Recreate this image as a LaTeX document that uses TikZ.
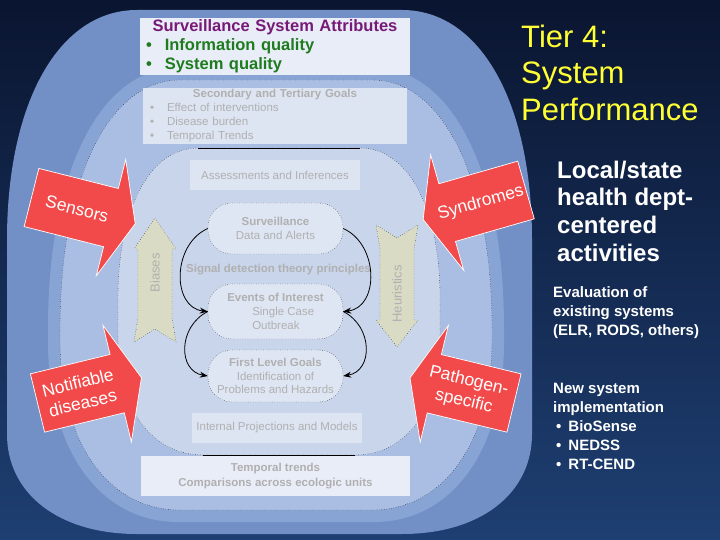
\documentclass[tikz,border=0pt]{standalone}
\usepackage{fontspec}
\setmainfont{Liberation Sans}
\definecolor{BgTop}{HTML}{0A1530}
\definecolor{BgBot}{HTML}{1E3F72}
\definecolor{OuterBlue}{HTML}{7290C6}
\definecolor{BandBlue}{HTML}{88A4D5}
\definecolor{MidBlue}{HTML}{A9BEE2}
\definecolor{InnerBlue}{HTML}{C9D5EB}
\definecolor{AttrFill}{HTML}{E9EDF8}
\definecolor{BoxFill}{HTML}{DDE4F2}
\definecolor{PillFill}{HTML}{DFE6F3}
\definecolor{SoftGray}{HTML}{B0B0B0}
\definecolor{Beige}{HTML}{DADBC4}
\definecolor{RedArrow}{HTML}{F24A4A}
\definecolor{AttrPurple}{HTML}{771A77}
\definecolor{AttrGreen}{HTML}{1E7B1E}
\definecolor{TierYellow}{HTML}{FFFF33}
\usepackage{tikz}
\usetikzlibrary{positioning,arrows.meta}

\begin{document}
\begin{tikzpicture}[x=1pt,y=-1pt,
    gbox/.style={rectangle, fill=BoxFill, inner sep=0pt, align=center, text=SoftGray,
      font=\fontsize{11.5}{13.8}\selectfont},
    pill/.style={gbox, fill=PillFill, draw=black, dotted, rounded corners=24pt, minimum width=135pt},
    abox/.style={rectangle, fill=AttrFill, text width=258pt, inner xsep=6pt, inner ysep=0pt,
      minimum height=57pt, align=left, font=\bfseries\fontsize{16.5}{19.2}\selectfont},
    sbox/.style={rectangle, fill=BoxFill, text width=250pt, inner xsep=7pt, inner ysep=0pt,
      minimum height=56pt, align=left, text=SoftGray, font=\fontsize{11.5}{14}\selectfont},
    redarrow/.style={fill=RedArrow, draw=white, line width=0.7pt},
    redtext/.style={text=white, align=center, transform shape, font=\fontsize{17.5}{21}\selectfont},
    sidearrow/.style={fill=Beige, draw=black, dotted},
    sidetext/.style={text=SoftGray, rotate=90, font=\fontsize{13}{15}\selectfont},
    cyc/.style={-{Stealth[length=8pt,width=6pt]}, line width=0.8pt},
    side/.style={anchor=north west, inner sep=0pt, align=left, text=white}]
  \useasboundingbox (0,0) rectangle (720,540);
  \shade[top color=BgTop, bottom color=BgBot] (0,0) rectangle (720,540);

  \fill[OuterBlue] (137,10) -- (402,10) .. controls (480,10) and (532,102) .. (532,240)
    -- (532,434) .. controls (532,494) and (480,534) .. (402,534) -- (137,534)
    .. controls (59,534) and (7,494) .. (7,434) -- (7,240) .. controls (7,102) and (59,10) .. (137,10) -- cycle;
  \fill[BandBlue] (178,68) -- (374,68) .. controls (452,68) and (504,172) .. (504,328)
    -- (504,342) .. controls (504,450) and (452,522) .. (374,522) -- (178,522)
    .. controls (100,522) and (48,450) .. (48,342) -- (48,328) .. controls (48,172) and (100,68) .. (178,68) -- cycle;
  \filldraw[fill=MidBlue, draw=black, dotted] (180,80) -- (372,80) .. controls (444,80) and (492,180) .. (492,330)
    -- (492,340) .. controls (492,442) and (444,510) .. (372,510) -- (180,510)
    .. controls (108,510) and (60,442) .. (60,340) -- (60,330) .. controls (60,180) and (108,80) .. (180,80) -- cycle;
  \filldraw[fill=InnerBlue, draw=black, dotted] (198,148) -- (360,148) .. controls (408,148) and (440,208) .. (440,298)
    -- (440,340) .. controls (440,409) and (406,455) .. (355,455) -- (203,455)
    .. controls (152,455) and (118,409) .. (118,340) -- (118,298) .. controls (118,208) and (150,148) .. (198,148) -- cycle;
  \draw (198,148) -- (360,148);
  \draw (203,455) -- (355,455);

  \node[abox] (attr) at (275,46.5) {\makebox[258pt]{\textcolor{AttrPurple}{Surveillance System Attributes}}\\
    \textcolor{AttrGreen}{\textbullet\hspace{13pt}Information quality}\\
    \textcolor{AttrGreen}{\textbullet\hspace{13pt}System quality}};
  \node[sbox] (goals) at (275,116) {\makebox[250pt]{\textbf{Secondary and Tertiary Goals}}\\
    \textbullet\hspace{13pt}Effect of interventions\\
    \textbullet\hspace{13pt}Disease burden\\
    \textbullet\hspace{13pt}Temporal Trends};
  \node[gbox, minimum width=170pt, minimum height=30pt] (assess) at (275,175) {Assessments and Inferences};
  \node[pill, minimum height=51pt] (surv) at (275.5,228.5) {\textbf{Surveillance}\\Data and Alerts};
  \node[text=SoftGray, font=\bfseries\fontsize{11.5}{13.8}\selectfont] (sdt) at (278.5,270) {Signal detection theory principles};
  \node[pill, minimum height=55pt, align=left] (events) at (275.5,311.5) {\textbf{Events of Interest}\\
    \hspace*{25pt}Single Case\\\hspace*{25pt}Outbreak};
  \node[pill, minimum height=52pt] (first) at (275.5,376) {\textbf{First Level Goals}\\Identification of\\Problems and Hazards};
  \node[gbox, minimum width=170pt, minimum height=30pt] (models) at (277,428) {Internal Projections and Models};
  \node[gbox, minimum width=269pt, minimum height=40pt, fill=AttrFill, font=\bfseries\fontsize{11.5}{14.3}\selectfont]
    (trends) at (275.5,476) {Temporal trends\\Comparisons across ecologic units};

  \draw[cyc] (surv.west) .. controls +(-36,16) and +(-36,-4) .. (events.west);
  \draw[cyc] (surv.east) .. controls +(36,16) and +(36,-4) .. (events.east);
  \draw[cyc] (events.west) .. controls +(-30,15) and +(-30,-5) .. (first.west);
  \draw[cyc] (events.east) .. controls +(30,15) and +(30,-5) .. (first.east);

  \filldraw[sidearrow] (155,218) -- (176,249) -- (172,249) -- (172,318) -- (176,342) -- (155,329)
    -- (134,342) -- (138,318) -- (138,249) -- (134,249) -- cycle;
  \node[sidetext] (biases) at (155,273) {Biases};
  \filldraw[sidearrow] (376,225) -- (397,238) -- (418,225) -- (414,249) -- (414,320) -- (418,320)
    -- (397,347) -- (376,320) -- (380,320) -- (380,249) -- cycle;
  \node[sidetext] (heur) at (397,294) {Heuristics};

  \begin{scope}[shift={(31.5,197.5)}, rotate=-14.2]
    \filldraw[redarrow] (0,-30) -- (82,-30) -- (82,-60) -- (107,0) -- (82,60) -- (82,30) -- (0,30) -- cycle;
    \node[redtext] (sens) at (47,0) {Sensors};
  \end{scope}
  \begin{scope}[shift={(37.5,403)}, rotate=13.7]
    \filldraw[redarrow] (0,-30) -- (82,-30) -- (82,-60) -- (107,0) -- (82,60) -- (82,30) -- (0,30) -- cycle;
    \node[redtext] (notif) at (44,0) {Notifiable\\diseases};
  \end{scope}
  \begin{scope}[shift={(526,190)}, rotate=16]
    \filldraw[redarrow] (0,-30) -- (-82,-30) -- (-82,-60) -- (-107,0) -- (-82,60) -- (-82,30) -- (0,30) -- cycle;
    \node[redtext] (synd) at (-47,0) {Syndromes};
  \end{scope}
  \begin{scope}[shift={(514,403)}, rotate=-13.6]
    \filldraw[redarrow] (0,-30) -- (-82,-30) -- (-82,-60) -- (-107,0) -- (-82,60) -- (-82,30) -- (0,30) -- cycle;
    \node[redtext] (patho) at (-49,0) {Pathogen-\\specific};
  \end{scope}

  \node[side, text=TierYellow, font=\fontsize{31}{36.5}\selectfont] (tier) at (521,24.5) {Tier 4:\\System\\Performance};
  \node[side, font=\bfseries\fontsize{24}{27.7}\selectfont] (local) at (557,160.5) {Local/state\\health dept-\\centered\\activities};
  \node[side, font=\bfseries\fontsize{15}{19}\selectfont] (eval) at (553,286) {Evaluation of\\existing systems\\(ELR, RODS, others)};
  \node[side, font=\bfseries\fontsize{15}{19}\selectfont] (newsys) at (553,382.6) {New system\\implementation\\
    \hspace*{3pt}\textbullet\hspace{7pt}BioSense\\\hspace*{3pt}\textbullet\hspace{7pt}NEDSS\\\hspace*{3pt}\textbullet\hspace{7pt}RT-CEND};
\end{tikzpicture}
\end{document}
